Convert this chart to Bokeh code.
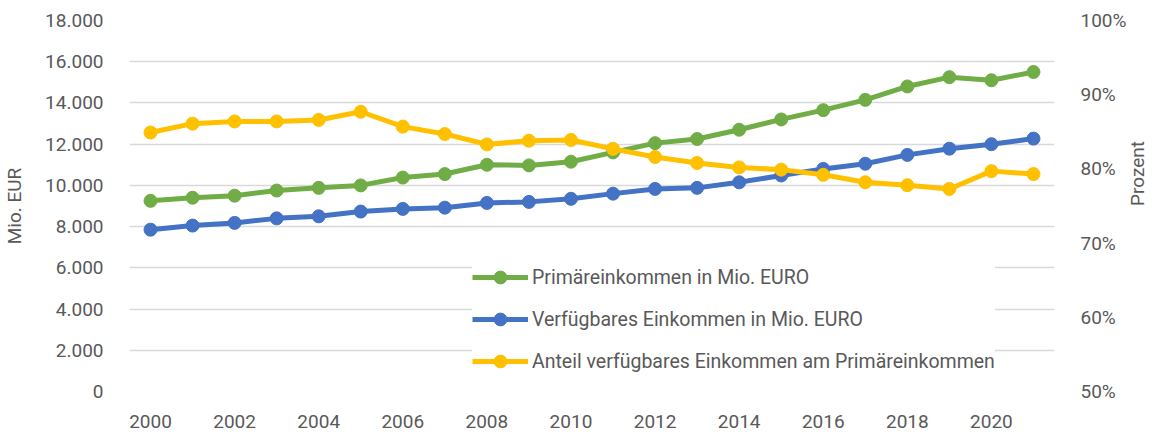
import math
from bokeh.plotting import figure
from bokeh.models import (Range1d, LinearAxis, FixedTicker, CustomJSTickFormatter,
                          PrintfTickFormatter, Legend, LegendItem)
from bokeh.embed import file_html
from bokeh.resources import INLINE

# ---- data ----
years = list(range(2000, 2022))
primaer = [9250, 9400, 9500, 9750, 9880, 10000, 10380, 10550, 11000, 10970, 11150,
           11600, 12050, 12250, 12700, 13200, 13650, 14150, 14800, 15250, 15100, 15500]
verfuegbar = [7850, 8050, 8180, 8400, 8500, 8730, 8860, 8920, 9150, 9200, 9350,
              9600, 9830, 9880, 10150, 10480, 10800, 11050, 11480, 11780, 12000, 12270]
anteil = [84.9, 86.1, 86.4, 86.4, 86.6, 87.7, 85.7, 84.7, 83.3, 83.8, 83.9,
          82.7, 81.6, 80.8, 80.2, 79.9, 79.2, 78.2, 77.8, 77.3, 79.7, 79.3]
x_ticks = list(range(2000, 2021, 2))
y_ticks = list(range(0, 18001, 2000))
pct_ticks = [50, 60, 70, 80, 90, 100]
labels = ["Primäreinkommen in Mio. EURO",
          "Verfügbares Einkommen in Mio. EURO",
          "Anteil verfügbares Einkommen am Primäreinkommen"]
left_title = "Mio. EUR"
right_title = "Prozent"

FONT = "Roboto"
TXT = "#595959"
GREEN, BLUE, YELLOW = "#70AD47", "#4472C4", "#FFC000"
FS = "19px"

p = figure(width=1163, height=432, output_backend="svg", toolbar_location=None,
           x_range=Range1d(1999.5, 2021.5), y_range=Range1d(0, 18000),
           min_border_left=125, min_border_right=100, min_border_top=20,
           min_border_bottom=41)
p.extra_y_ranges = {"pct": Range1d(50, 100)}
p.outline_line_color = None
p.xgrid.grid_line_color = None
p.ygrid.grid_line_color = "#D9D9D9"
p.ygrid.grid_line_width = 1.5


def style_axis(ax):
    ax.axis_line_color = None
    ax.major_tick_line_color = None
    ax.minor_tick_line_color = None
    ax.major_label_text_font = FONT
    ax.major_label_text_font_size = FS
    ax.major_label_text_color = TXT
    ax.axis_label_text_font = FONT
    ax.axis_label_text_font_size = FS
    ax.axis_label_text_color = TXT
    ax.axis_label_text_font_style = "normal"


xa = p.xaxis[0]
style_axis(xa)
xa.ticker = FixedTicker(ticks=x_ticks)
xa.major_label_standoff = 17

ya = p.yaxis[0]
style_axis(ya)
ya.ticker = FixedTicker(ticks=y_ticks)
ya.formatter = CustomJSTickFormatter(
    code="return tick.toFixed(0).replace(/\\B(?=(\\d{3})+(?!\\d))/g, '.');")
ya.major_label_standoff = 20
ya.axis_label = left_title
ya.axis_label_standoff = 16

ra = LinearAxis(y_range_name="pct", ticker=FixedTicker(ticks=pct_ticks),
                formatter=PrintfTickFormatter(format="%d%%"))
style_axis(ra)
ra.major_label_standoff = 20
ra.axis_label = right_title
ra.axis_label_standoff = 8
if "axis_label_orientation" in ra.properties():
    ra.axis_label_orientation = math.pi / 2
p.add_layout(ra, "right")

items = []
for vals, col, name, rng in [(primaer, GREEN, labels[0], "default"),
                             (verfuegbar, BLUE, labels[1], "default"),
                             (anteil, YELLOW, labels[2], "pct")]:
    ln = p.line(years, vals, line_color=col, line_width=5, line_join="round",
                y_range_name=rng)
    sc = p.scatter(years, vals, size=13, fill_color=col, line_color=col,
                   y_range_name=rng)
    items.append(LegendItem(label=name, renderers=[ln, sc]))

legend = Legend(items=items, location=(343, 14), label_text_font=FONT,
                label_text_font_size="19.5px", label_text_color=TXT,
                glyph_width=56, glyph_height=32, label_height=20,
                label_standoff=4, spacing=10, padding=14, margin=0,
                border_line_color=None, background_fill_alpha=1.0)
p.add_layout(legend)

open("out.html", "w").write(file_html(p, INLINE))
